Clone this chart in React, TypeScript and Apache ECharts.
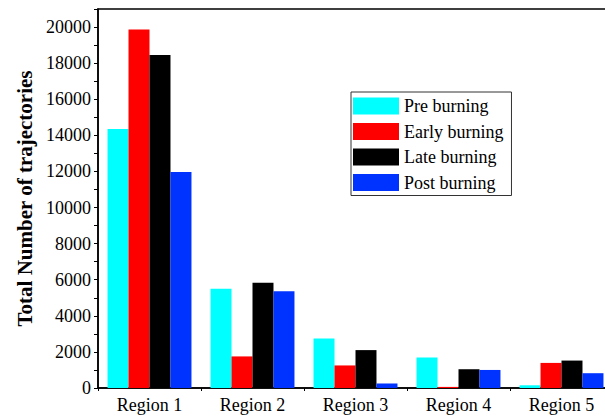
import React, { useEffect, useRef } from 'react';
import * as echarts from 'echarts';

const regions = ['Region 1', 'Region 2', 'Region 3', 'Region 4', 'Region 5'];
const phaseNames = ['Pre burning', 'Early burning', 'Late burning', 'Post burning'];
const phaseColors = ['#00ffff', '#ff0000', '#000000', '#0033ff'];

const preBurning = [14350, 5500, 2740, 1690, 150];
const earlyBurning = [19870, 1750, 1250, 60, 1390];
const lateBurning = [18450, 5830, 2100, 1040, 1520];
const postBurning = [11970, 5360, 250, 1000, 820];

const seriesValues = [preBurning, earlyBurning, lateBurning, postBurning];

const serif = '"Liberation Serif", "Times New Roman", serif';

const App: React.FC = () => {
  const chartRef = useRef<HTMLDivElement>(null);

  useEffect(() => {
    if (!chartRef.current) return;
    const chart = echarts.init(chartRef.current, null, { renderer: 'svg' });

    chart.setOption({
      animation: false,
      backgroundColor: '#ffffff',
      grid: {
        left: 98,
        right: 12,
        top: 9,
        bottom: 29,
        show: true,
        borderColor: '#000',
        borderWidth: 1.5
      },
      legend: {
        orient: 'vertical',
        left: 351,
        top: 92,
        padding: [5, 8, 4, 2],
        itemWidth: 46,
        itemHeight: 17,
        itemGap: 7.5,
        icon: 'rect',
        borderColor: '#333',
        borderWidth: 1,
        textStyle: { fontFamily: serif, fontSize: 18, color: '#000' },
        data: phaseNames
      },
      xAxis: {
        type: 'category',
        data: regions,
        axisLine: { lineStyle: { color: '#000', width: 1.5 } },
        axisTick: { show: true, length: 3, lineStyle: { color: '#000' } },
        axisLabel: { fontFamily: serif, fontSize: 18, color: '#000', margin: 8 }
      },
      yAxis: {
        type: 'value',
        min: 0,
        max: 21000,
        interval: 1000,
        name: 'Total Number of trajectories',
        nameLocation: 'middle',
        nameGap: 59,
        nameTextStyle: {
          fontFamily: serif,
          fontSize: 21,
          fontWeight: 'bold',
          color: '#000'
        },
        splitLine: { show: false },
        axisLine: { show: true, lineStyle: { color: '#000', width: 1.5 } },
        axisTick: { show: true, length: 4, lineStyle: { color: '#000' } },
        axisLabel: {
          fontFamily: serif,
          fontSize: 18,
          color: '#000',
          margin: 7,
          formatter: (v: number) => (v % 2000 === 0 ? String(v) : '')
        }
      },
      series: seriesValues.map((vals, i) => ({
        name: phaseNames[i],
        type: 'bar',
        data: vals,
        barGap: '0%',
        barCategoryGap: '18.5%',
        itemStyle: { color: phaseColors[i] }
      }))
    });

    return () => {
      chart.dispose();
    };
  }, []);

  return (
    <div
      ref={chartRef}
      style={{ position: 'fixed', left: 0, top: 0, width: 625, height: 417, background: '#fff' }}
    />
  );
};

export default App;
